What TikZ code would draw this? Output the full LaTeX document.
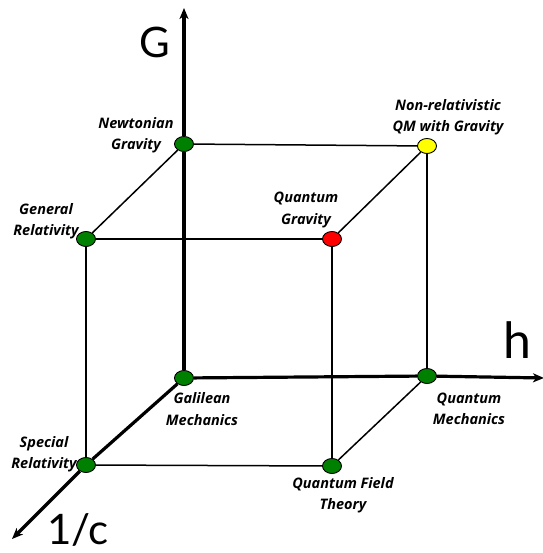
\documentclass[tikz,border=0pt]{standalone}
\usepackage{fontspec}
\setmainfont{Open Sans}
\newfontfamily\axfont{Lato}
\usepackage{xcolor}
\definecolor{cgreen}{HTML}{008000}
\definecolor{cred}{HTML}{FF0000}
\definecolor{cyellow}{HTML}{FFFF00}
\usetikzlibrary{arrows.meta,positioning,shapes.geometric}

\begin{document}
\begin{tikzpicture}[x=1pt,y=-1pt,
  theory/.style={ellipse,draw=black,line width=0.9pt,fill=cgreen,
                 minimum width=19pt,minimum height=15pt,inner sep=0pt},
  lbl/.style={align=center,font=\fontsize{14.5}{21.5}\selectfont\bfseries\itshape},
  ax/.style={line width=3.2pt},
  axtip/.style={line width=3.2pt,-{Stealth[length=11pt,width=9pt,inset=3pt]}},
  edge/.style={line width=1.5pt},
  axlbl/.style={font=\axfont\fontsize{42}{42}\selectfont}]
\useasboundingbox (0,0) rectangle (542,553);
% corners of the cube
\node[theory] (gal) at (184,378) {};
\node[theory] (newt) at (184,144) {};
\node[theory] (qm) at (427,376) {};
\node[theory,fill=cyellow] (nrqg) at (427,146) {};
\node[theory] (gr) at (86,239) {};
\node[theory,fill=cred] (qg) at (332,239) {};
\node[theory] (sr) at (86,465) {};
\node[theory] (qft) at (332,466) {};
% axis ends
\coordinate (gtip) at (184,8);
\coordinate (htip) at (544,378);
\coordinate (ctip) at (12,539);
% axes
\draw[ax] (gal) -- (newt);
\draw[axtip] (newt) -- (gtip);
\draw[ax] (gal) -- (qm);
\draw[axtip] (qm) -- (htip);
\draw[ax] (gal) -- (sr);
\draw[axtip] (sr) -- (ctip);
% cube edges
\draw[edge] (newt) -- (nrqg);
\draw[edge] (newt) -- (gr);
\draw[edge] (gr) -- (qg);
\draw[edge] (qg) -- (nrqg);
\draw[edge] (nrqg) -- (qm);
\draw[edge] (gr) -- (sr);
\draw[edge] (qg) -- (qft);
\draw[edge] (sr) -- (qft);
\draw[edge] (qft) -- (qm);
% labels
\node[lbl] (lnewt) at (136,135) {Newtonian\\Gravity};
\node[lbl] (lgr) at (46,221) {General\\Relativity};
\node[lbl] (lnrqg) at (448,117) {Non-relativistic\\QM with Gravity};
\node[lbl] (lqg) at (306,210) {Quantum\\Gravity};
\node[lbl] (lgal) at (202,409) {Galilean\\Mechanics};
\node[lbl] (lsr) at (44,454) {Special\\Relativity};
\node[lbl] (lqm) at (469,409) {Quantum\\Mechanics};
\node[lbl] (lqft) at (343,495) {Quantum Field\\Theory};
\node[axlbl] (lg) at (155,42) {G};
\node[axlbl,font=\axfont\fontsize{50}{50}\selectfont] (lh) at (517,340) {h};
\node[axlbl] (lc) at (78,530) {1/c};
\end{tikzpicture}
\end{document}
